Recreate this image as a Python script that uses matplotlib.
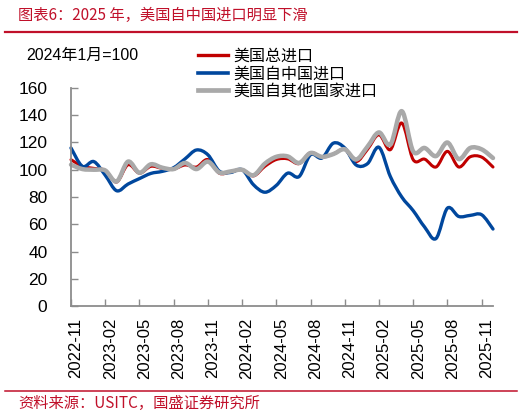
import numpy as np
import matplotlib
matplotlib.use('Agg')
import matplotlib.pyplot as plt
from matplotlib.path import Path
from matplotlib.patches import PathPatch
from matplotlib.lines import Line2D
import matplotlib.transforms as mtransforms

# ---------------- data (index 2024-01 = 100), monthly points ----------------
tick_labels = ['2022-11', '2023-02', '2023-05', '2023-08', '2023-11', '2024-02',
               '2024-05', '2024-08', '2024-11', '2025-02', '2025-05', '2025-08', '2025-11']

total = [107.4, 102.5, 101.0, 99.5, 91.0, 103.7, 97.5, 102.5, 101.0, 100.5,
         103.5, 102.0, 107.5, 97.5, 98.5, 100.0, 95.5, 102.5, 107.5, 108.0,
         104.5, 112.5, 109.3, 111.5, 115.0, 106.0, 115.0, 125.7, 114.7, 134.3,
         107.4, 107.8, 102.0, 113.5, 102.0, 109.5, 109.3, 102.0]

china = [116.0, 102.5, 106.0, 96.0, 84.6, 89.5, 93.5, 97.3, 98.8, 101.5,
         108.0, 114.5, 111.0, 99.0, 98.0, 100.0, 89.0, 83.5, 88.5, 97.5,
         95.0, 111.0, 108.6, 119.5, 116.0, 103.5, 104.5, 116.5, 95.0, 80.0,
         70.0, 58.0, 49.5, 71.8, 65.7, 66.5, 67.0, 56.5]

others = [103.7, 100.5, 100.0, 99.5, 91.4, 106.0, 97.8, 104.0, 101.5, 100.5,
          105.0, 100.5, 106.0, 98.0, 98.8, 100.0, 96.0, 104.5, 109.5, 109.8,
          105.0, 112.3, 109.5, 111.5, 115.0, 107.5, 117.0, 127.4, 118.4, 143.0,
          113.5, 116.0, 110.0, 120.0, 107.8, 116.0, 115.0, 108.6]

series_names = ['美国总进口', '美国自中国进口', '美国自其他国家进口']

# ---------------- style ----------------
W, H = 531, 416
RED = '#C00000'
BLUE = '#00479D'
GRAY = '#A9A9A9'
TXT_RED = '#C0102A'
AXIS_GRAY = '#8C8C8C'
CJK = ['Noto Sans CJK SC', 'DejaVu Sans']
LAT = ['Liberation Sans', 'Noto Sans CJK SC', 'DejaVu Sans']


def smooth_path(xs, ys):
    """Smoothed (Catmull-Rom style) Bezier path through the data points."""
    pts = np.column_stack([np.asarray(xs, float), np.asarray(ys, float)])
    n = len(pts)
    verts = [pts[0]]
    codes = [Path.MOVETO]
    for i in range(n - 1):
        p0 = pts[i - 1] if i > 0 else pts[i]
        p1 = pts[i]
        p2 = pts[i + 1]
        p3 = pts[i + 2] if i + 2 < n else pts[i + 1]
        c1 = p1 + (p2 - p0) / 6.0
        c2 = p2 - (p3 - p1) / 6.0
        verts += [c1, c2, p2]
        codes += [Path.CURVE4] * 3
    return Path(verts, codes)


fig = plt.figure(figsize=(W / 100, H / 100), dpi=100)
ax = fig.add_axes([71 / W, 1 - 306 / H, (493 - 71) / W, (306 - 88) / H])

x = np.arange(len(total))
styles = [(total, RED, 2.2), (china, BLUE, 2.4), (others, GRAY, 3.2)]
for vals, col, lw in styles:
    ax.add_patch(PathPatch(smooth_path(x, vals), facecolor='none', edgecolor=col,
                           lw=lw, capstyle='round', joinstyle='round', clip_on=False))

ax.set_xlim(0, len(total) - 1)
ax.set_ylim(0, 160)
ax.set_yticks(np.arange(0, 161, 20))
ax.set_xticks(np.arange(0, len(tick_labels) * 3, 3))
ax.set_xticklabels(tick_labels, rotation=90, fontsize=12, family=LAT)
ax.set_yticklabels([str(v) for v in range(0, 161, 20)], fontsize=12.5, family=LAT)

for s in ['top', 'right']:
    ax.spines[s].set_visible(False)
for s in ['left', 'bottom']:
    ax.spines[s].set_color(AXIS_GRAY)
    ax.spines[s].set_linewidth(1.3)
ax.tick_params(axis='both', direction='in', length=5, width=1.0, color=AXIS_GRAY)
ax.tick_params(axis='y', pad=17)
ax.tick_params(axis='x', pad=8.5)
ax.patch.set_alpha(0)

offset = mtransforms.ScaledTranslation(5 / 100, 0, fig.dpi_scale_trans)
for lab in ax.get_xticklabels():
    lab.set_transform(lab.get_transform() + offset)

# legend
handles = [Line2D([], [], color=RED, lw=2.4),
           Line2D([], [], color=BLUE, lw=2.6),
           Line2D([], [], color=GRAY, lw=3.4)]
leg = fig.legend(handles, series_names, loc='upper left',
                 bbox_to_anchor=(198 / W, 1 - 48 / H), bbox_transform=fig.transFigure,
                 frameon=False, borderpad=0, borderaxespad=0, handlelength=1.9,
                 handletextpad=0.3, labelspacing=0.02,
                 prop={'family': CJK, 'size': 11.5})

# unit label
fig.text(26 / W, 1 - 55 / H, '2024年1月=100', fontsize=11.5, family=LAT,
         va='center', ha='left', color='black')

# header / footer
fig.text(18 / W, 1 - 15 / H, '图表6：2025 年，美国自中国进口明显下滑', fontsize=11,
         family=CJK, color=TXT_RED, va='center', ha='left', style='italic')
fig.add_artist(Line2D([5 / W, 517 / W], [1 - 31.7 / H] * 2, transform=fig.transFigure,
                      color=TXT_RED, lw=1.6))
fig.add_artist(Line2D([5 / W, 517 / W], [1 - 390.7 / H] * 2, transform=fig.transFigure,
                      color=TXT_RED, lw=1.1))
fig.text(18 / W, 1 - 403 / H, '资料来源：USITC，国盛证券研究所', fontsize=11,
         family=CJK, color=TXT_RED, va='center', ha='left', style='italic')

fig.savefig('out.png', dpi=100)
